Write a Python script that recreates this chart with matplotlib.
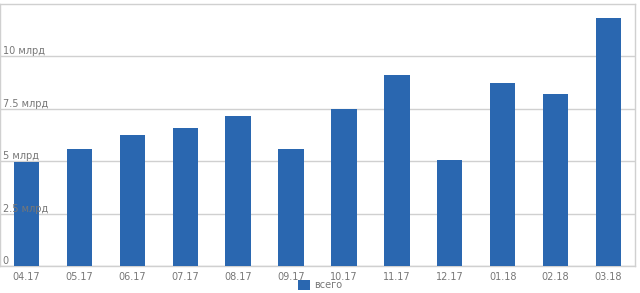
import matplotlib
matplotlib.use("Agg")
import matplotlib.pyplot as plt
from matplotlib.patches import Patch
import matplotlib.transforms as mtransforms

categories = ["04.17", "05.17", "06.17", "07.17", "08.17", "09.17",
              "10.17", "11.17", "12.17", "01.18", "02.18", "03.18"]
values = [4.98, 5.58, 6.25, 6.58, 7.16, 5.58, 7.49, 9.11, 5.06, 8.73, 8.19, 11.82]
ytick_values = [0, 2.5, 5, 7.5, 10]
ytick_labels = ["0", "2.5 млрд", "5 млрд", "7.5 млрд", "10 млрд"]
series_name = "всего"

bar_color = "#2a67b0"
grid_color = "#d0d0d0"
text_color = "#777777"

fig = plt.figure(figsize=(6.4, 2.93), dpi=100)
ax = fig.add_axes([0.0, 27/293, 635/640, 262/293])

x = list(range(len(categories)))
ax.bar(x, values, width=0.48, color=bar_color, zorder=3)
ax.set_xlim(-0.5, len(categories) - 0.5)
ax.set_ylim(0, 12.5)

for v in ytick_values:
    ax.axhline(v, color=grid_color, lw=1, zorder=1)
trans = mtransforms.blended_transform_factory(ax.transAxes, ax.transData)
for v, lab in zip(ytick_values, ytick_labels):
    ax.text(0.004, v, lab, transform=trans, ha="left", va="bottom",
            fontsize=7, color=text_color, zorder=4)

ax.set_yticks([])
ax.set_xticks(x)
ax.set_xticklabels(categories, fontsize=7, color=text_color)
ax.tick_params(axis="x", length=0, pad=4)
for s in ax.spines.values():
    s.set_color(grid_color)
    s.set_linewidth(1)

fig.legend(handles=[Patch(facecolor=bar_color, label=series_name)],
           loc="lower center", bbox_to_anchor=(0.5, -0.02), frameon=False,
           fontsize=7, handlelength=1.2, handleheight=1.2, handletextpad=0.4,
           labelcolor=text_color)

fig.savefig("out.png", dpi=100)
